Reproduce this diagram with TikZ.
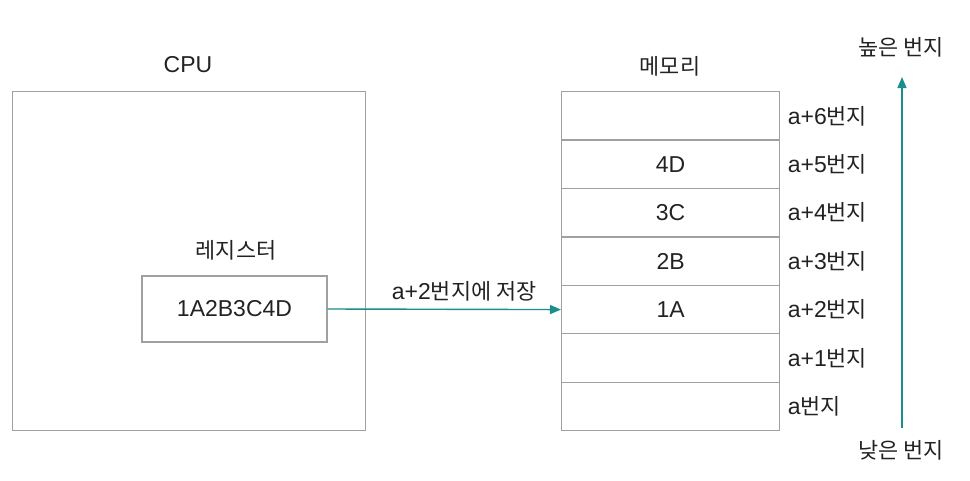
\documentclass[tikz,border=0pt]{standalone}
\usepackage{fontspec}
\setmainfont{Liberation Sans}
\newfontfamily\krfont{Noto Sans CJK KR}[Scale=0.95]
\newcommand{\kr}[1]{{\krfont #1}}
\usetikzlibrary{arrows.meta}
\definecolor{tealline}{HTML}{1A8E8C}
\definecolor{boxgray}{HTML}{A0A0A0}
\definecolor{txt}{HTML}{222222}
\begin{document}
\begin{tikzpicture}[x=1pt,y=-1pt,font=\fontsize{23}{26}\selectfont,text=txt,
  box/.style={draw=boxgray,line width=1.3pt,inner sep=0pt},
  cell/.style={box,minimum width=218pt,minimum height=48.43pt,anchor=north west},
  conn/.style={draw=tealline,line width=1.4pt,-{Triangle[length=11pt,width=9pt]}}]
\useasboundingbox (0,0) rectangle (970,480);

% CPU side
\node[box,minimum width=353pt,minimum height=339pt,anchor=north west] (cpu) at (12,91) {};
\node (cpulbl) at (188,65) {CPU};
\node[box,minimum width=185pt,minimum height=66pt] (reg) at (234.5,309) {1A2B3C4D};
\node (reglbl) at (236,250) {\kr{레지스터}};

% memory
\node (memlbl) at (670,66) {\kr{메모리}};
\foreach \i/\v/\l in {0//a,1//a+1,2/1A/a+2,3/2B/a+3,4/3C/a+4,5/4D/a+5,6//a+6}{
  \node[cell] (m\i) at (561,{430-48.43*(\i+1)}) {\v};
  \node[anchor=west] (l\i) at ([xshift=4pt]m\i.east) {\l\kr{번지}};
}

\draw[conn] (reg.east) -- node[above=4pt,pos=0.585] (storelbl) {a+2\kr{번지에 저장}} (m2.west);

% address direction
\node (hi) at (901,47) {\kr{높은 번지}};
\node (lo) at (901,450) {\kr{낮은 번지}};
\coordinate (lostart) at (902,428);
\coordinate (hiend) at (902,77);
\draw[conn] (lostart) -- (hiend);
\end{tikzpicture}
\end{document}
